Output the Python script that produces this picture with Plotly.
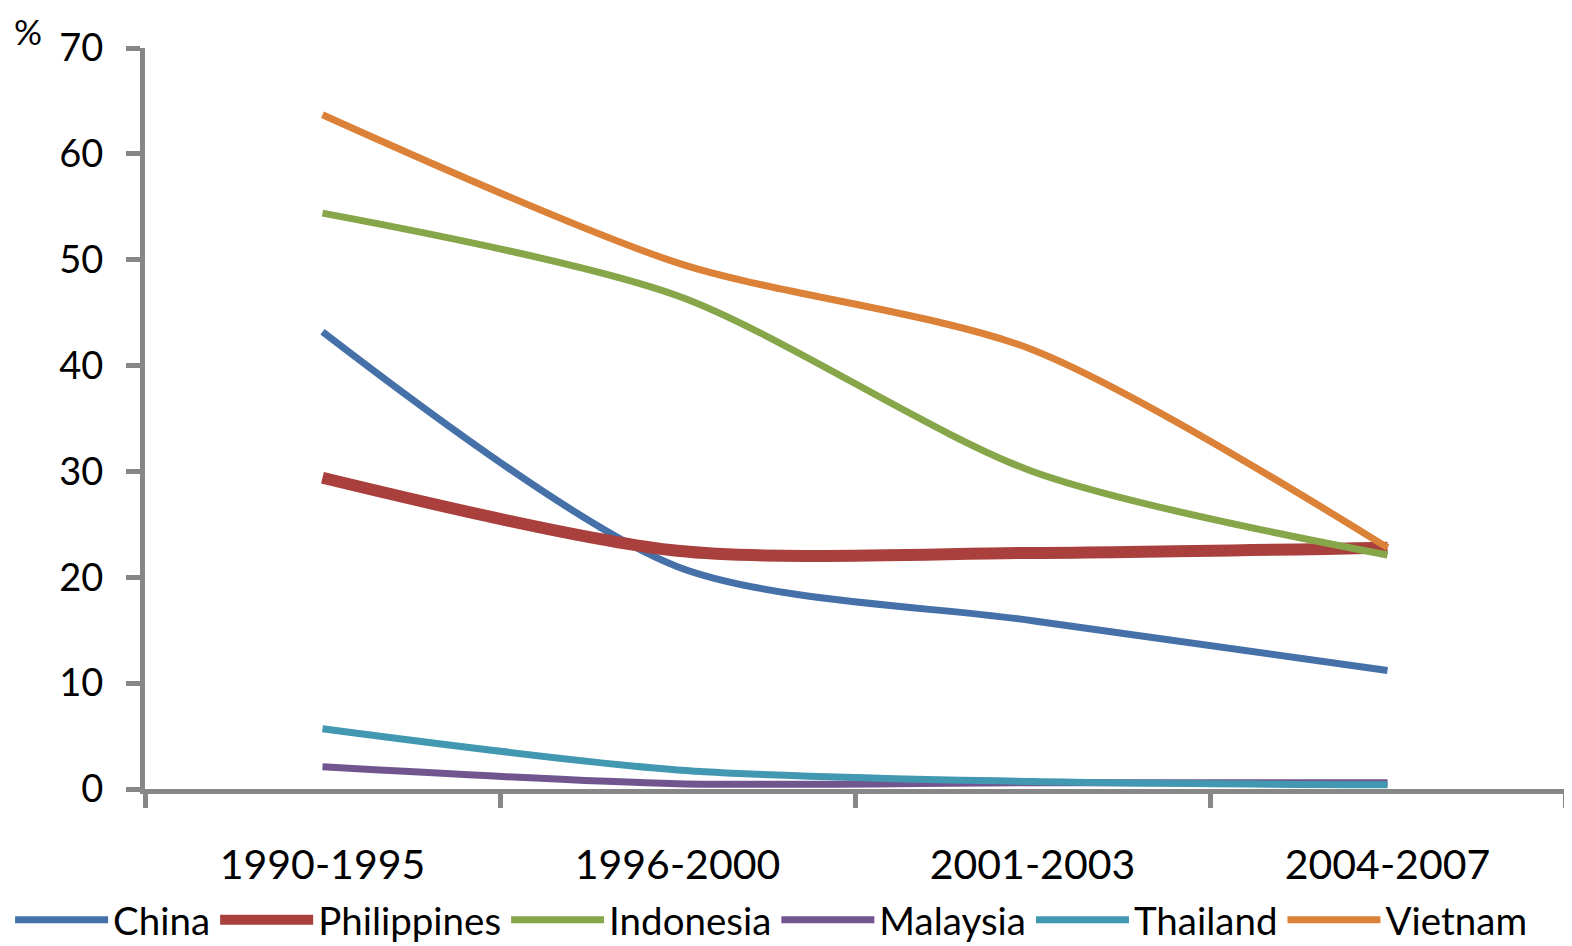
import plotly.graph_objects as go

categories = ["1990-1995", "1996-2000", "2001-2003", "2004-2007"]
china = [43.2, 21.0, 15.9, 11.2]
philippines = [29.4, 22.5, 22.3, 22.8]
indonesia = [54.4, 46.6, 30.0, 22.1]
malaysia = [2.1, 0.5, 0.6, 0.6]
thailand = [5.7, 1.8, 0.7, 0.4]
vietnam = [63.7, 49.7, 41.5, 22.8]
y_ticks = [0, 10, 20, 30, 40, 50, 60, 70]

series = [
    ("China", china, "#4570A8", 7),
    ("Philippines", philippines, "#A9403D", 12),
    ("Indonesia", indonesia, "#87A64A", 7),
    ("Malaysia", malaysia, "#70558F", 7),
    ("Thailand", thailand, "#4198B0", 7),
    ("Vietnam", vietnam, "#DC8238", 7),
]

FONT = "Lato, Open Sans, sans-serif"

fig = go.Figure()
for name, vals, color, w in series:
    fig.add_trace(go.Scatter(
        x=categories, y=vals, name=name, mode="lines",
        line=dict(color=color, width=w, shape="spline", smoothing=0.8),
    ))

axis_color = "#878787"
fig.update_layout(
    width=1564, height=938,
    margin=dict(l=137, r=7, t=40, b=157, autoexpand=False),
    paper_bgcolor="white", plot_bgcolor="white",
    font=dict(family=FONT, size=38, color="black"),
    showlegend=True,
    legend=dict(orientation="h", x=-0.095, xanchor="left", y=-0.134, yanchor="top",
                font=dict(size=38.5), itemwidth=93, tracegroupgap=0),
    xaxis=dict(type="category", range=[-0.5, 3.5], tickson="boundaries",
               showline=True, linecolor=axis_color, linewidth=5,
               ticks="outside", ticklen=14, tickwidth=5, tickcolor=axis_color,
               showgrid=False, zeroline=False, ticklabelstandoff=36,
               tickfont=dict(size=41)),
    yaxis=dict(range=[0, 70], tickvals=y_ticks, showline=True, linecolor=axis_color,
               linewidth=5, ticks="outside", ticklen=14, tickwidth=5, tickcolor=axis_color,
               showgrid=False, zeroline=False, ticklabelstandoff=15,
               tickfont=dict(size=38)),
    annotations=[dict(text="%", xref="paper", yref="paper", x=-0.0824, y=1.052,
                      xanchor="center", yanchor="top", showarrow=False, borderpad=0,
                      font=dict(size=35))],
)
fig.write_html("out.html")
